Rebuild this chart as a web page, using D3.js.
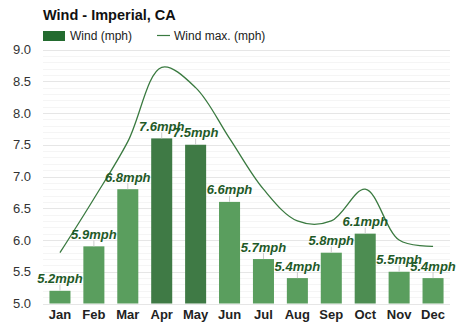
<!DOCTYPE html>
<html><head><meta charset="utf-8">
<script src="https://cdn.jsdelivr.net/npm/d3@7"></script>
<style>
body{margin:0;background:#fff;font-family:"Liberation Sans",Arial,sans-serif;}
</style></head>
<body><svg id="c" width="474" height="331"></svg>
<script>
const months = ["Jan","Feb","Mar","Apr","May","Jun","Jul","Aug","Sep","Oct","Nov","Dec"];
const wind = [5.2,5.9,6.8,7.6,7.5,6.6,5.7,5.4,5.8,6.1,5.5,5.4];
const windMax = [5.8,6.65,7.55,8.72,8.4,7.6,6.8,6.3,6.3,6.8,6.0,5.9];
const yTicks = [5.0,5.5,6.0,6.5,7.0,7.5,8.0,8.5,9.0];
const barShade = ["#5a9e5e","#5a9e5e","#5a9e5e","#3f7a45","#3f7a45","#5a9e5e","#5a9e5e","#5a9e5e","#5a9e5e","#4d8d52","#5a9e5e","#5a9e5e"];

const svg = d3.select("#c");
const L = 43, R = 450, T = 49.5, B = 303.5;
const x = d3.scaleBand().domain(months).range([L, R]).paddingInner(0.38).paddingOuter(0.19);
const y = d3.scaleLinear().domain([5, 9]).range([B, T]);

// minor grid
const minor = d3.range(50, 91).map(v => v / 10).filter(v => Math.round(v * 10) % 5 !== 0);
svg.append("g").selectAll("line").data(minor).join("line")
  .attr("x1", L).attr("x2", R).attr("y1", d => Math.round(y(d)) + 0.5).attr("y2", d => Math.round(y(d)) + 0.5)
  .attr("stroke", "#f5f5f5").attr("stroke-width", 1);
// major grid
svg.append("g").selectAll("line").data(yTicks).join("line")
  .attr("x1", L).attr("x2", R).attr("y1", d => Math.round(y(d)) + 0.5).attr("y2", d => Math.round(y(d)) + 0.5)
  .attr("stroke", "#e6e6e6").attr("stroke-width", 1);

// y axis
const yAxis = d3.axisLeft(y).tickValues(yTicks).tickFormat(d3.format(".1f")).tickSize(0).tickPadding(0);
const gy = svg.append("g").attr("transform", `translate(31,0)`).call(yAxis);
gy.select(".domain").remove();
gy.selectAll("text").attr("font-size", 13).attr("fill", "#333").attr("font-family", "Liberation Sans, Arial, sans-serif");

// x axis
const xAxis = d3.axisBottom(x).tickSize(0).tickPadding(0);
const gx = svg.append("g").attr("transform", `translate(0,${B + 6})`).call(xAxis);
gx.select(".domain").remove();
gx.selectAll("text").attr("font-size", 13).attr("font-weight", "bold").attr("fill", "#222")
  .attr("font-family", "Liberation Sans, Arial, sans-serif");

// bars
svg.append("g").selectAll("rect").data(wind).join("rect")
  .attr("x", (d, i) => x(months[i])).attr("width", x.bandwidth())
  .attr("y", d => y(d)).attr("height", d => B - y(d))
  .attr("fill", (d, i) => barShade[i]);

// label ticks
svg.append("g").selectAll("line").data(wind).join("line")
  .attr("x1", (d, i) => x(months[i]) + x.bandwidth() / 2).attr("x2", (d, i) => x(months[i]) + x.bandwidth() / 2)
  .attr("y1", d => y(d)).attr("y2", d => y(d) - 6)
  .attr("stroke", "#cccccc").attr("stroke-width", 1);

// line
const line = d3.line().x((d, i) => x(months[i]) + x.bandwidth() / 2).y(d => y(d)).curve(d3.curveCatmullRom.alpha(0.5));
svg.append("path").datum(windMax).attr("d", line).attr("fill", "none")
  .attr("stroke", "#3a7a40").attr("stroke-width", 1.3);

// labels
svg.append("g").selectAll("text").data(wind).join("text")
  .attr("x", (d, i) => x(months[i]) + x.bandwidth() / 2).attr("y", d => y(d) - 7.5)
  .attr("text-anchor", "middle").attr("font-size", 13).attr("font-weight", "bold").attr("font-style", "italic")
  .attr("fill", "#1f5a28").attr("font-family", "Liberation Sans, Arial, sans-serif")
  .text(d => d.toFixed(1) + "mph");

// title
svg.append("text").attr("x", 43).attr("y", 20).attr("font-size", 14.5).attr("font-weight", "bold")
  .attr("fill", "#111").attr("font-family", "Liberation Sans, Arial, sans-serif").text("Wind - Imperial, CA");

// legend
svg.append("rect").attr("x", 43).attr("y", 31).attr("width", 22).attr("height", 10).attr("fill", "#236b2f");
svg.append("text").attr("x", 70).attr("y", 40).attr("font-size", 12).attr("fill", "#222")
  .attr("font-family", "Liberation Sans, Arial, sans-serif").text("Wind (mph)");
svg.append("line").attr("x1", 157).attr("x2", 170).attr("y1", 35.5).attr("y2", 35.5).attr("stroke", "#3a7a40").attr("stroke-width", 1.2);
svg.append("text").attr("x", 174).attr("y", 40).attr("font-size", 12).attr("fill", "#222")
  .attr("font-family", "Liberation Sans, Arial, sans-serif").text("Wind max. (mph)");
</script></body></html>
